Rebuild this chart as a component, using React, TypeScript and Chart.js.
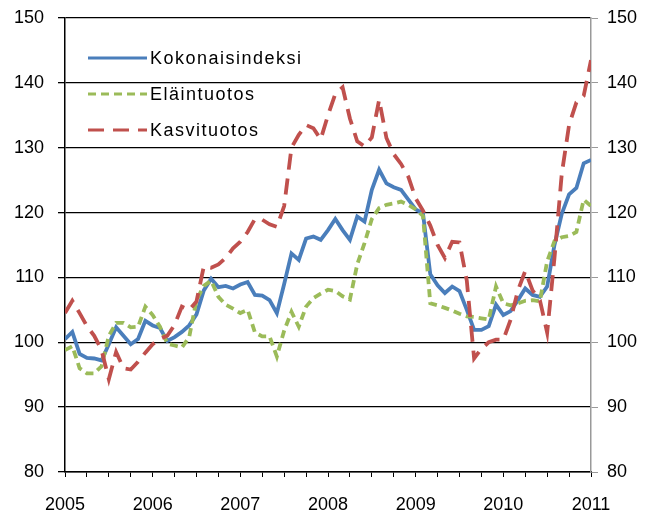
import React, { useEffect, useRef } from "react";
import { Chart, registerables } from "chart.js";

Chart.register(...registerables);

const yearLabels = ["2005", "2006", "2007", "2008", "2009", "2010", "2011"];

const seriesNames = ["Kokonaisindeksi", "Eläintuotos", "Kasvituotos"];

const kokonais = [
  100.5, 101.6, 98.2, 97.6, 97.5, 97.2, 99.7, 102.3, 101.0, 99.7, 100.5, 103.3,
  102.6, 102.2, 100.2, 100.8, 101.6, 102.6, 104.3, 108.0, 109.8, 108.5, 108.7, 108.3,
  108.9, 109.3, 107.3, 107.2, 106.5, 104.5, 109.0, 113.7, 112.7, 116.0, 116.3, 115.8,
  117.3, 119.0, 117.3, 115.8, 119.4, 118.6, 123.5, 126.6, 124.5, 123.9, 123.5, 122.0,
  120.5, 119.9, 110.5, 108.8, 107.6, 108.6, 107.9, 105.0, 101.9, 101.9, 102.5, 105.8,
  104.2, 104.8, 106.5, 108.3, 107.3, 107.0, 108.6, 115.0, 119.8, 122.8, 123.8, 127.6,
  128.1,
];

const elain = [
  98.8, 99.4, 96.0, 95.2, 95.2, 96.3, 101.0, 103.0, 103.0, 102.3, 102.4, 105.5,
  104.2, 102.4, 99.8, 99.5, 99.2, 100.8, 106.5, 108.7, 109.5, 107.0, 105.8, 105.2,
  104.5, 105.0, 101.5, 100.9, 100.9, 97.8, 101.8, 104.7, 102.4, 105.5, 106.8, 107.5,
  108.1, 107.9, 107.1, 106.6, 112.0, 115.3, 119.0, 120.7, 121.2, 121.4, 121.7, 121.2,
  120.5, 119.5, 106.0, 105.7, 105.3, 104.9, 104.4, 104.0, 103.9, 103.7, 103.5, 108.6,
  106.0, 105.7, 106.0, 106.4, 106.5, 106.3, 112.5, 115.6, 116.2, 116.4, 117.0, 122.0,
  121.0,
];

const kasvi = [
  104.5, 106.4, 104.5, 102.5, 101.0, 98.8, 94.3, 98.5, 96.0, 95.8, 97.0, 98.4,
  99.7, 100.5, 101.0, 102.7, 105.5, 105.0, 106.3, 111.7, 111.5, 112.0, 113.0, 114.5,
  115.5, 117.0, 119.0, 118.9, 118.2, 117.8, 121.0, 130.0, 132.0, 133.5, 133.0, 131.3,
  135.0, 138.3, 139.3, 134.5, 131.0, 130.2, 131.6, 137.4, 131.5, 129.0, 127.5, 125.5,
  122.2, 120.3, 118.0, 115.0, 113.0, 115.5, 115.4, 109.5, 97.5, 99.0, 100.0, 100.4,
  100.4, 103.5, 108.0, 111.0, 108.0, 106.5, 101.5, 113.0, 126.0, 133.5, 137.0, 138.0,
  143.5,
];

const colors = ["#4a7ebb", "#9bbb59", "#c0504d"];
const dashes: number[][] = [[], [8, 5], [16, 9]];
const FONT = "'Liberation Sans', Arial, sans-serif";

const toPoints = (arr: number[]) => arr.map((v, i) => ({ x: i, y: v }));

const zeroPad = (s: any) => {
  s.paddingTop = 0;
  s.paddingBottom = 0;
  s.paddingLeft = 0;
  s.paddingRight = 0;
};

const legendPlugin = {
  id: "customLegend",
  afterDraw(chart: any) {
    const ctx = chart.ctx;
    const ca = chart.chartArea;
    const x0 = ca.left + 23;
    const x1 = ca.left + 82;
    const rows = [ca.top + 40, ca.top + 76, ca.top + 112];
    ctx.save();
    seriesNames.forEach((name, k) => {
      ctx.beginPath();
      ctx.strokeStyle = colors[k];
      ctx.lineWidth = 3;
      ctx.setLineDash(dashes[k]);
      ctx.moveTo(x0, rows[k]);
      ctx.lineTo(x1, rows[k]);
      ctx.stroke();
      ctx.setLineDash([]);
      ctx.fillStyle = "#000";
      ctx.font = `18px ${FONT}`;
      (ctx as any).letterSpacing = "1.5px";
      ctx.textBaseline = "middle";
      ctx.textAlign = "left";
      ctx.fillText(name, x1 + 3, rows[k] + 1);
    });
    ctx.restore();
  },
};

export default function App() {
  const ref = useRef<HTMLCanvasElement | null>(null);
  useEffect(() => {
    document.body.style.margin = "0";
    if (!ref.current) return;
    const chart = new Chart(ref.current, {
      type: "line",
      data: {
        datasets: [
          {
            label: seriesNames[0],
            data: toPoints(kokonais),
            borderColor: colors[0],
            borderWidth: 3.8,
            pointRadius: 0,
            tension: 0,
            order: 3,
          },
          {
            label: seriesNames[1],
            data: toPoints(elain),
            borderColor: colors[1],
            borderWidth: 3.8,
            borderDash: dashes[1],
            pointRadius: 0,
            tension: 0,
            order: 2,
          },
          {
            label: seriesNames[2],
            data: toPoints(kasvi),
            borderColor: colors[2],
            borderWidth: 3.8,
            borderDash: dashes[2],
            pointRadius: 0,
            tension: 0,
            order: 1,
          },
        ],
      },
      options: {
        animation: false,
        responsive: false,
        devicePixelRatio: 1,
        layout: { padding: { top: 18, left: 0, right: 0, bottom: 0 } },
        plugins: {
          legend: { display: false },
          tooltip: { enabled: false },
        },
        scales: {
          x: {
            type: "linear",
            min: 0,
            max: 72,
            afterFit: (s: any) => {
              s.height = 44;
              zeroPad(s);
            },
            afterBuildTicks: (s: any) => {
              const t = [];
              for (let v = 0; v <= 72; v += 3) t.push({ value: v });
              s.ticks = t;
            },
            ticks: {
              autoSkip: false,
              maxRotation: 0,
              padding: 17,
              color: "#000",
              font: { family: FONT, size: 18 },
              callback: (v: any) => (Number(v) % 12 === 0 ? yearLabels[Number(v) / 12] : ""),
            },
            grid: {
              drawOnChartArea: false,
              drawTicks: true,
              tickLength: 5,
              color: "#000",
              lineWidth: 1,
            },
            border: { color: "#000", width: 1.5 },
          },
          y: {
            position: "left",
            min: 80,
            max: 150,
            afterFit: (s: any) => {
              s.width = 65;
              zeroPad(s);
            },
            ticks: {
              stepSize: 10,
              padding: 14,
              color: "#000",
              font: { family: FONT, size: 18 },
            },
            grid: {
              color: "#000",
              lineWidth: 1.3,
              tickLength: 7,
            },
            border: { color: "#000", width: 1.5 },
          },
          y2: {
            position: "right",
            min: 80,
            max: 150,
            afterFit: (s: any) => {
              s.width = 57;
              zeroPad(s);
            },
            ticks: {
              stepSize: 10,
              padding: 9,
              color: "#000",
              font: { family: FONT, size: 18 },
            },
            grid: {
              drawOnChartArea: false,
              color: "#999",
              tickLength: 7,
            },
            border: { color: "#999", width: 1.5 },
          },
        },
      },
      plugins: [legendPlugin],
    });
    return () => chart.destroy();
  }, []);
  return (
    <div style={{ width: 648, height: 516, background: "#fff" }}>
      <canvas ref={ref} width={648} height={516} />
    </div>
  );
}
